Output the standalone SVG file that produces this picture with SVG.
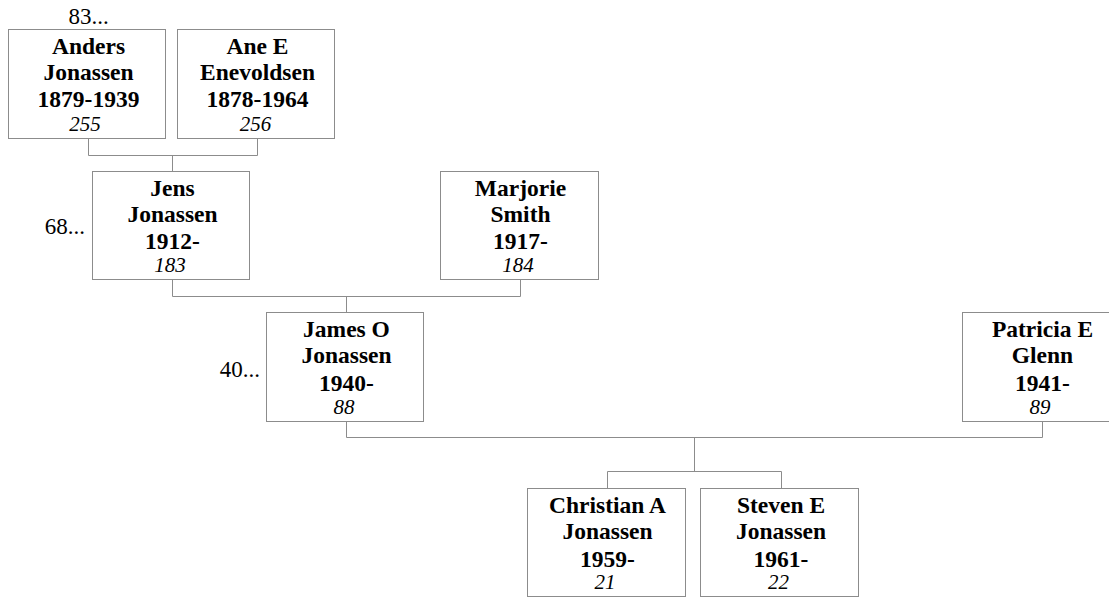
<svg xmlns="http://www.w3.org/2000/svg" width="1109" height="599" viewBox="0 0 1109 599">
<style>
.box{fill:#fff;stroke:#8c8c8c;stroke-width:1}
.ln{fill:none;stroke:#8c8c8c;stroke-width:1}
text{font-family:"Liberation Serif","Times New Roman",serif;fill:#000}
.n{font-weight:bold;font-size:23.5px;text-anchor:middle}
.id{font-style:italic;font-size:21px;text-anchor:middle}
.more{font-size:23px}
</style>
<rect width="1109" height="599" fill="#fff"/>
<g id="connectors">
<path class="ln" d="M88.5,138.5V155.5H257.5V138.5M172.5,155.5V171.5"/>
<path class="ln" d="M172.5,279.5V296.5H520.5V279.5M346.5,296.5V312.5"/>
<path class="ln" d="M346.5,421.5V437.5H1042.5V421.5M694.5,437.5V471.5"/>
<path class="ln" d="M607.5,488.5V471.5H781.5V488.5"/>
</g>
<g id="anders">
<rect class="box" x="8.5" y="29.5" width="157" height="109"/>
<text class="more" x="88.5" y="23.5" text-anchor="middle">83...</text>
<text class="n" x="88.5" y="54.3">Anders</text>
<text class="n" x="88.5" y="80.3">Jonassen</text>
<text class="n" x="88.5" y="107.3">1879-1939</text>
<text class="id" x="85" y="130.7">255</text>
</g>
<g id="ane">
<rect class="box" x="177.5" y="29.5" width="157" height="109"/>
<text class="n" x="257.5" y="54.3">Ane E</text>
<text class="n" x="257.5" y="80.3">Enevoldsen</text>
<text class="n" x="257.5" y="107.3">1878-1964</text>
<text class="id" x="255.5" y="130.7">256</text>
</g>
<g id="jens">
<rect class="box" x="92.5" y="171.5" width="157" height="108"/>
<text class="more" x="85" y="234.3" text-anchor="end">68...</text>
<text class="n" x="172.5" y="195.5">Jens</text>
<text class="n" x="172.5" y="221.8">Jonassen</text>
<text class="n" x="172.5" y="249.2">1912-</text>
<text class="id" x="170" y="272">183</text>
</g>
<g id="marjorie">
<rect class="box" x="440.5" y="171.5" width="158" height="108"/>
<text class="n" x="520.5" y="195.5">Marjorie</text>
<text class="n" x="520.5" y="221.8">Smith</text>
<text class="n" x="520.5" y="249.2">1917-</text>
<text class="id" x="518" y="272">184</text>
</g>
<g id="james">
<rect class="box" x="266.5" y="312.5" width="157" height="109"/>
<text class="more" x="260" y="376.7" text-anchor="end">40...</text>
<text class="n" x="346.5" y="336.8">James O</text>
<text class="n" x="346.5" y="363.3">Jonassen</text>
<text class="n" x="346.5" y="390.8">1940-</text>
<text class="id" x="344" y="413.5">88</text>
</g>
<g id="patricia">
<rect class="box" x="962.5" y="312.5" width="157" height="109"/>
<text class="n" x="1042.5" y="336.8">Patricia E</text>
<text class="n" x="1042.5" y="363.3">Glenn</text>
<text class="n" x="1042.5" y="390.8">1941-</text>
<text class="id" x="1040" y="413.5">89</text>
</g>
<g id="christian">
<rect class="box" x="527.5" y="488.5" width="158" height="108"/>
<text class="n" x="607.5" y="512.8">Christian A</text>
<text class="n" x="607.5" y="539">Jonassen</text>
<text class="n" x="607.5" y="566.6">1959-</text>
<text class="id" x="605" y="588.5">21</text>
</g>
<g id="steven">
<rect class="box" x="700.5" y="488.5" width="158" height="108"/>
<text class="n" x="781" y="512.8">Steven E</text>
<text class="n" x="781" y="539">Jonassen</text>
<text class="n" x="781" y="566.6">1961-</text>
<text class="id" x="778.5" y="588.5">22</text>
</g>
</svg>
